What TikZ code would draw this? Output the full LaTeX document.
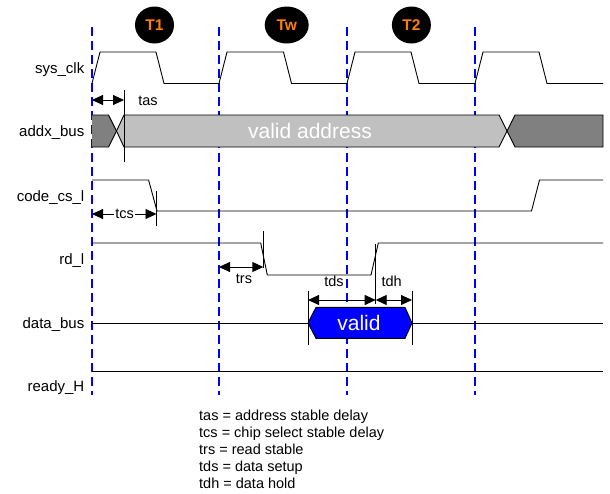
\documentclass[tikz,border=0pt]{standalone}
\usepackage{fontspec}
\setmainfont{Liberation Sans}
\usetikzlibrary{arrows.meta,shapes.geometric}
\definecolor{darkg}{HTML}{808080}
\definecolor{lightg}{HTML}{C0C0C0}
\definecolor{torange}{HTML}{FF8000}
\definecolor{gridblue}{HTML}{0000FF}
\begin{document}
\begin{tikzpicture}[x=1pt,y=-1pt,
  sig/.style={line width=0.9pt, black, line join=miter},
  gridline/.style={gridblue, line width=1.1pt, dash pattern=on 9pt off 5pt},
  dimarrow/.style={line width=0.9pt, {Triangle[length=11pt,width=10pt]}-{Triangle[length=11pt,width=10pt]}},
  marker/.style={line width=0.9pt, black},
  siglabel/.style={anchor=base east, font=\fontsize{15}{18}\selectfont, inner sep=0pt},
  dimlabel/.style={anchor=base, font=\fontsize{14.5}{17}\selectfont, inner sep=0pt},
  legend/.style={anchor=base west, font=\fontsize{14.5}{17}\selectfont, inner sep=0pt},
  phase/.style={ellipse, fill=black, text=torange, font=\fontsize{15.5}{18}\selectfont\bfseries, inner sep=0pt, minimum height=37pt},
  busdark/.style={fill=darkg, draw=black, line width=0.9pt},
  buslight/.style={fill=lightg, draw=black, line width=0.9pt},
  busvalid/.style={fill=gridblue, draw=black, line width=0.9pt}
]
\useasboundingbox (0,0) rectangle (610,493);

% grid lines
\foreach \gx/\gn in {92/g0,219/g1,347/g2,475/g3}{
  \coordinate (\gn top) at (\gx,27);
  \coordinate (\gn bot) at (\gx,395);
  \draw[gridline] (\gn top) -- (\gn bot);
}

% phase markers
\node[phase, minimum width=39pt] (T1) at (154.5,25) {T1};
\node[phase, minimum width=44pt] (Tw) at (286.7,25) {Tw};
\node[phase, minimum width=39pt] (T2) at (411.4,25) {T2};

% signal labels
\node[siglabel] (Lclk) at (84.5,73.3) {sys\_clk};
\node[siglabel] (Laddr) at (84.5,136.7) {addx\_bus};
\node[siglabel] (Lcs) at (84.5,201) {code\_cs\_l};
\node[siglabel] (Lrd) at (84.5,264) {rd\_l};
\node[siglabel] (Ldata) at (84.5,328) {data\_bus};
\node[siglabel] (Lready) at (84.5,391) {ready\_H};

% sys_clk
\draw[sig] (92,83.5) -- (100,52) -- (156,52) -- (164,83.5) -- (219,83.5)
  -- (227,52) -- (283.5,52) -- (291.5,83.5) -- (347,83.5)
  -- (355,52) -- (411,52) -- (419,83.5) -- (475,83.5)
  -- (483,52) -- (539,52) -- (547,83.5) -- (603,83.5);

% addx_bus
\fill[darkg] (92,115) -- (108.5,115) -- (116.5,131) -- (108.5,147) -- (92,147) -- cycle;
\draw[sig] (92,115) -- (108.5,115) -- (116.5,131) -- (108.5,147) -- (92,147);
\draw[buslight] (124,115) -- (499,115) -- (507,131) -- (499,147) -- (124,147) -- (116.5,131) -- cycle;
\draw[busdark] (515,115) -- (507,131) -- (515,147) -- (603,147) -- (603,115) -- cycle;
\node[anchor=base, text=white, font=\fontsize{21}{24}\selectfont, inner sep=0pt] (va) at (310,138.5) {valid address};

% tas
\coordinate (tasTop) at (124,90);
\coordinate (tasBot) at (124,162);
\draw[marker] (tasTop) -- (tasBot);
\coordinate (tasL) at (92,100);
\coordinate (tasR) at (124,100);
\draw[dimarrow] (tasL) -- (tasR);
\node[dimlabel] (tas) at (148,105.5) {tas};

% code_cs_l
\draw[sig] (92,180) -- (148.6,180) -- (157,211) -- (531.5,211) -- (539.5,180) -- (603,180);
\coordinate (tcsTop) at (156.5,191);
\coordinate (tcsBot) at (156.5,226);
\draw[marker] (tcsTop) -- (tcsBot);
\coordinate (tcsL) at (92,214);
\coordinate (tcsR) at (156.5,214);
\draw[dimarrow] (tcsL) -- (tcsR);
\node[dimlabel, fill=white, inner xsep=1.5pt, inner ysep=0pt] (tcs) at (124.7,218.5) {tcs};

% rd_l
\draw[sig] (92,243) -- (260.7,243) -- (267.3,275) -- (371,275) -- (378.3,243) -- (603,243);
\coordinate (trsTop) at (263.3,231);
\coordinate (trsBot) at (263.3,268);
\draw[marker] (trsTop) -- (trsBot);
\coordinate (trsL) at (219,267);
\coordinate (trsR) at (263.3,267);
\draw[dimarrow] (trsL) -- (trsR);
\node[dimlabel] (trs) at (244,283.3) {trs};

% data_bus
\draw[sig] (92,323) -- (308,323);
\draw[sig] (412,323) -- (603,323);
\draw[busvalid] (308,323) -- (316,307.3) -- (405,307.3) -- (412,323) -- (405,338.3) -- (316,338.3) -- cycle;
\node[anchor=base, text=white, font=\fontsize{21}{24}\selectfont, inner sep=0pt] (valid) at (359,330) {valid};

% tds / tdh markers
\coordinate (m1Top) at (308,290.7);
\coordinate (m1Bot) at (308,345);
\coordinate (m2Top) at (375.7,244);
\coordinate (m2Bot) at (375.7,304);
\coordinate (m3Top) at (412,290.7);
\coordinate (m3Bot) at (412,345);
\draw[marker] (m1Top) -- (m1Bot);
\draw[marker] (m2Top) -- (m2Bot);
\draw[marker] (m3Top) -- (m3Bot);
\coordinate (tdsL) at (308,300);
\coordinate (tdsR) at (375.7,300);
\coordinate (tdhR) at (412,300);
\draw[dimarrow] (tdsL) -- (tdsR);
\draw[dimarrow] (tdsR) -- (tdhR);
\node[dimlabel] (tds) at (334,286.7) {tds};
\node[dimlabel] (tdh) at (391.7,286.7) {tdh};

% ready_H
\draw[sig] (92,371) -- (603,371);

% legend
\node[legend] (leg1) at (199,420.5) {tas = address stable delay};
\node[legend] (leg2) at (199,437.5) {tcs = chip select stable delay};
\node[legend] (leg3) at (199,454.5) {trs = read stable};
\node[legend] (leg4) at (199,471.5) {tds = data setup};
\node[legend] (leg5) at (199,488.5) {tdh = data hold};
\end{tikzpicture}
\end{document}
